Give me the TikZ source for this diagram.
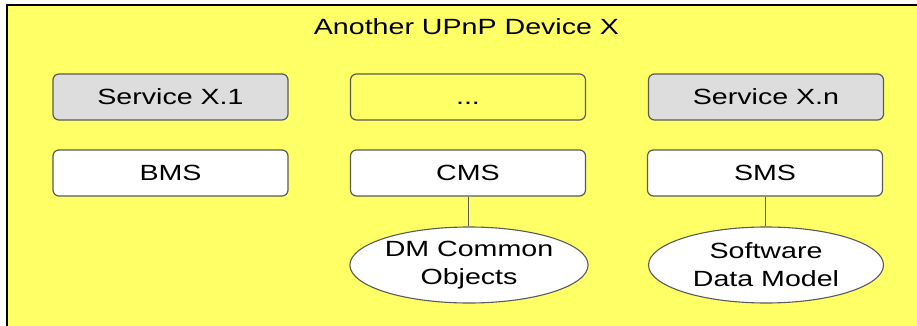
\documentclass[tikz,border=0pt]{standalone}
\usepackage{fontspec}
\setmainfont{Liberation Sans}
\newfontfamily\labelfont{Liberation Sans}[FakeStretch=1.3]
\usetikzlibrary{shapes.geometric}
\definecolor{panel}{RGB}{255,255,102}
\definecolor{svcgray}{RGB}{221,221,221}
\definecolor{edgegray}{RGB}{90,90,90}
\tikzset{
  lbl/.style={font=\labelfont\fontsize{22}{28}\selectfont, text=black},
  svcbox/.style={lbl, draw=edgegray, line width=1.2pt, rounded corners=6pt,
    minimum width=235pt, minimum height=46pt, inner sep=0pt,
    text height=15.8pt, text depth=0pt},
  dataobj/.style={lbl, ellipse, draw=edgegray, fill=white, line width=1.1pt,
    minimum width=235pt, minimum height=76pt, inner sep=0pt, align=center},
  link/.style={draw=edgegray, line width=1pt}
}
\begin{document}
\begin{tikzpicture}[x=1pt,y=-1pt]
\useasboundingbox (0,0) rectangle (917,326);
\fill[white] (0,0) rectangle (917,326);
% device panel, running off the right and bottom edges
\fill[panel] (7,5) rectangle (917,326);
\draw[black, line width=1.5pt] (7,326) -- (7,5) -- (917,5);

\node[lbl, anchor=base] (title) at (466.5,35) {Another UPnP Device X};

\node[svcbox, fill=svcgray] (s1) at (170.5,97) {Service X.1};
\node[svcbox] (sdots) at (468,97) {...};
\node[svcbox, fill=svcgray] (sn) at (766,97) {Service X.n};

\node[svcbox, fill=white] (bms) at (170.5,173) {BMS};
\node[svcbox, fill=white] (cms) at (468,173) {CMS};
\node[svcbox, fill=white] (sms) at (765,173) {SMS};

\node[dataobj] (dmc) at (469,265) {DM Common\\Objects};
\node[dataobj] (sdm) at (766,265) {Software\\Data Model};

\draw[link] (cms.south) -- (cms.south |- dmc.north);
\draw[link] (sms.south) -- (sms.south |- sdm.north);
\end{tikzpicture}
\end{document}
